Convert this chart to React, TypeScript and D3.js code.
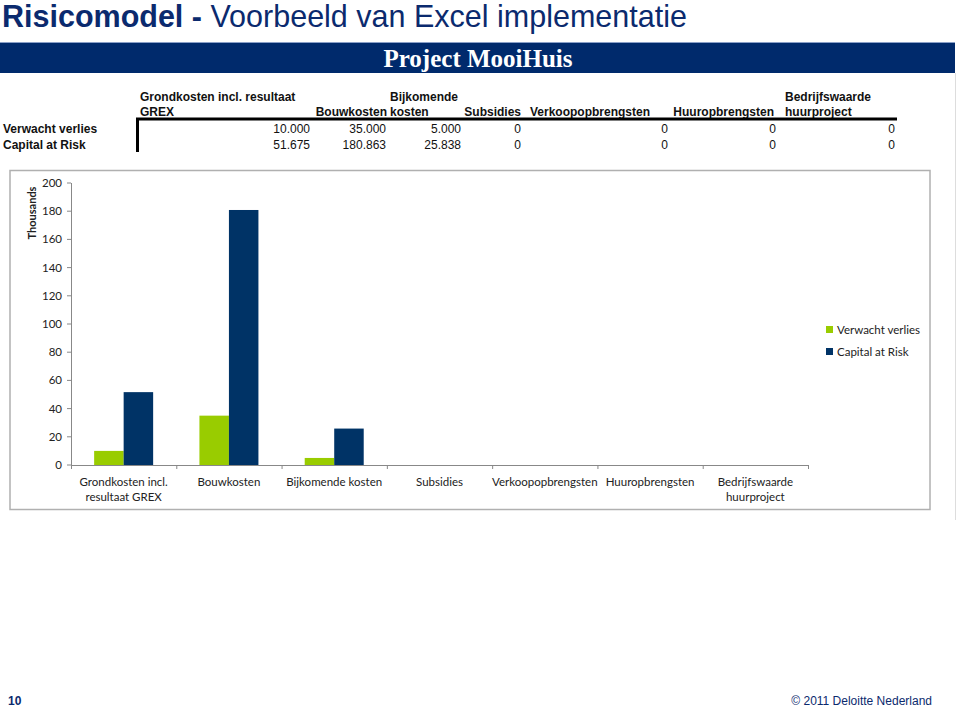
import React from "react";
import * as d3 from "d3";

const categories = [
  ["Grondkosten incl.", "resultaat GREX"],
  ["Bouwkosten"],
  ["Bijkomende kosten"],
  ["Subsidies"],
  ["Verkoopopbrengsten"],
  ["Huuropbrengsten"],
  ["Bedrijfswaarde", "huurproject"],
];
const headerLabels = [
  ["Grondkosten incl. resultaat", "GREX"],
  ["", "Bouwkosten"],
  ["Bijkomende", "kosten"],
  ["", "Subsidies"],
  ["", "Verkoopopbrengsten"],
  ["", "Huuropbrengsten"],
  ["Bedrijfswaarde", "huurproject"],
];
const seriesNames = ["Verwacht verlies", "Capital at Risk"];
const verwachtVerlies = [10000, 35000, 5000, 0, 0, 0, 0];
const capitalAtRisk = [51675, 180863, 25838, 0, 0, 0, 0];
const yTicks = [0, 20, 40, 60, 80, 100, 120, 140, 160, 180, 200];
const colors = ["#99cc00", "#003366"];

const NAVY = "#0b2a6e";
const nl = d3.formatLocale({ decimal: ",", thousands: ".", grouping: [3], currency: ["€", ""] });
const fmt = nl.format(",d");

// table layout
const colRight = [310, 386, 461, 521, 668, 776, 895];
const headerAnchor: ("start" | "end")[] = ["start", "end", "start", "end", "start", "end", "start"];
const headerX = [140, 387, 390, 521, 530, 774, 785];

export default function App() {
  const series = [verwachtVerlies, capitalAtRisk];
  const x = d3.scaleBand<number>().domain(d3.range(categories.length)).range([71, 808]).padding(0);
  const y = d3.scaleLinear().domain([0, 200]).range([465, 183]);
  const inner = d3.scaleBand<number>().domain([0, 1]).range([0, 59]).padding(0);
  const chartFont = "Lato, 'Open Sans', sans-serif";
  const tableFont = "Arial, 'Liberation Sans', sans-serif";

  return (
    <svg width={960} height={708} style={{ position: "absolute", left: 0, top: 0, background: "#fff" }}>
      {/* title */}
      <text x={2} y={27} fontFamily={tableFont} fontSize={30.5} fill={NAVY}>
        <tspan fontWeight="bold">Risicomodel -</tspan>
        <tspan> Voorbeeld van Excel implementatie</tspan>
      </text>
      <rect x={0} y={42} width={955} height={31} fill="#002a6c" />
      <line x1={0} x2={955} y1={42.5} y2={42.5} stroke="#8aa0c8" strokeWidth={1} />
      <text x={478} y={67} textAnchor="middle" fontFamily="'Liberation Serif', 'DejaVu Serif', serif" fontWeight="bold" fontSize={25} fill="#fff">
        Project MooiHuis
      </text>
      <line x1={955.5} x2={955.5} y1={73} y2={520} stroke="#dddddd" strokeWidth={1} />

      {/* table header */}
      {headerLabels.map((lines, i) => (
        <g key={"h" + i} fontFamily={tableFont} fontWeight="bold" fontSize={12} fill="#111">
          <text x={headerX[i]} y={101} textAnchor={headerAnchor[i]}>{lines[0]}</text>
          <text x={headerX[i]} y={116} textAnchor={headerAnchor[i]}>{lines[1]}</text>
        </g>
      ))}
      <line x1={136} x2={897} y1={119} y2={119} stroke="#000" strokeWidth={3} />
      <line x1={137.5} x2={137.5} y1={118} y2={152} stroke="#000" strokeWidth={3} />
      {seriesNames.map((name, r) => (
        <g key={"r" + r} fontFamily={tableFont} fontSize={12} fill="#111">
          <text x={3} y={133 + r * 16} fontWeight="bold">{name}</text>
          {series[r].map((v, i) => (
            <text key={i} x={colRight[i]} y={133 + r * 16} textAnchor="end">{fmt(v)}</text>
          ))}
        </g>
      ))}

      {/* chart box */}
      <rect x={10} y={170.5} width={920} height={339} fill="#fff" stroke="#b0b0b0" strokeWidth={1.5} />

      {/* y axis */}
      <line x1={71.5} x2={71.5} y1={y(200)} y2={y(0)} stroke="#888" />
      {yTicks.map((t) => (
        <g key={"t" + t}>
          <line x1={67} x2={71} y1={y(t)} y2={y(t)} stroke="#888" />
          <text x={62} y={y(t)} dy="0.35em" textAnchor="end" fontFamily={chartFont} fontSize={11.5} fill="#222">{t}</text>
        </g>
      ))}
      <text transform={`translate(36,${213}) rotate(-90)`} textAnchor="middle" fontFamily={chartFont} fontWeight="bold" fontSize={11} fill="#222">Thousands</text>

      {/* bars */}
      {categories.map((_, i) => {
        const x0 = (x(i) as number) + x.bandwidth() / 2 - 29.5;
        return (
          <g key={"b" + i}>
            {series.map((s, k) => (
              <rect key={k} x={x0 + (inner(k) as number)} y={y(s[i] / 1000)} width={inner.bandwidth()} height={y(0) - y(s[i] / 1000)} fill={colors[k]} />
            ))}
          </g>
        );
      })}

      {/* x axis */}
      <line x1={71} x2={808} y1={465.5} y2={465.5} stroke="#888" />
      {d3.range(categories.length + 1).map((i) => {
        const xx = i < categories.length ? (x(i) as number) : 808;
        return <line key={"xt" + i} x1={xx + 0.5} x2={xx + 0.5} y1={465} y2={469} stroke="#888" />;
      })}
      {categories.map((lines, i) => (
        <text key={"xl" + i} x={(x(i) as number) + x.bandwidth() / 2} y={486} textAnchor="middle" fontFamily={chartFont} fontSize={11.5} fill="#222">
          {lines.map((l, j) => (
            <tspan key={j} x={(x(i) as number) + x.bandwidth() / 2} dy={j === 0 ? 0 : 15}>{l}</tspan>
          ))}
        </text>
      ))}

      {/* legend */}
      {seriesNames.map((name, k) => (
        <g key={"lg" + k}>
          <rect x={826} y={326 + k * 22} width={7} height={7} fill={colors[k]} />
          <text x={837} y={330 + k * 22} dy="0.35em" fontFamily={chartFont} fontSize={11.5} fill="#222">{name}</text>
        </g>
      ))}

      {/* footer */}
      <text x={8} y={705} fontFamily={tableFont} fontWeight="bold" fontSize={12} fill={NAVY}>10</text>
      <text x={932} y={705} textAnchor="end" fontFamily={tableFont} fontSize={12} fill={NAVY}>© 2011 Deloitte Nederland</text>
    </svg>
  );
}
